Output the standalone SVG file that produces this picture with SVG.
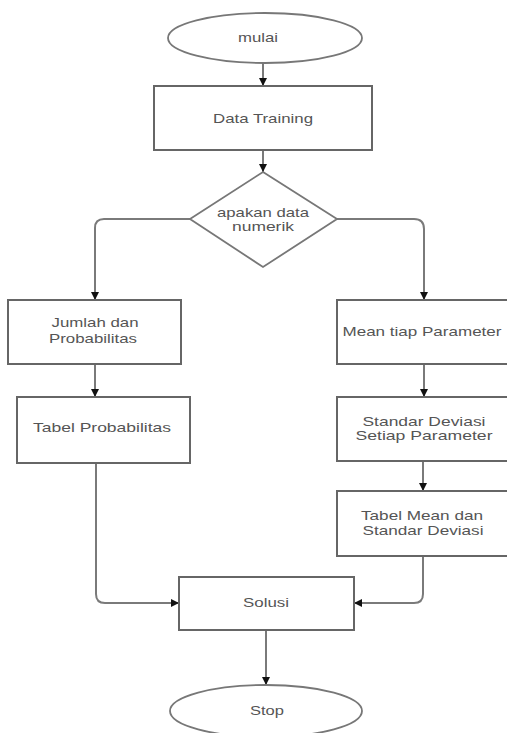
<svg xmlns="http://www.w3.org/2000/svg" width="507" height="733" viewBox="0 0 507 733">
<style>
.box{fill:#fff;stroke:#666;stroke-width:2}
.term{fill:#fff;stroke:#777;stroke-width:1.8}
.t{font-family:"Liberation Sans",Arial,sans-serif;font-size:13px;fill:#555;text-anchor:middle}
.c{fill:none;stroke:#7a7a7a;stroke-width:2;marker-end:url(#ah)}
</style>
<defs>
<marker id="ah" viewBox="0 0 10 10" refX="10" refY="5" markerWidth="4" markerHeight="4" orient="auto" markerUnits="strokeWidth">
<path d="M0,0 L10,5 L0,10 z" fill="#111"/>
</marker>
</defs>
<rect width="507" height="733" fill="#fff"/>
<g id="connectors">
<path class="c" d="M263,63 V86"/>
<path class="c" d="M263,150 V172"/>
<path class="c" d="M190,219 H104 Q95,219 95,228 V300"/>
<path class="c" d="M337,219 H414 Q424,219 424,229 V300"/>
<path class="c" d="M95,364 V397"/>
<path class="c" d="M424,364 V397"/>
<path class="c" d="M423,461 V491"/>
<path class="c" d="M96,463 V594 Q96,603 105,603 H179"/>
<path class="c" d="M423,556 V594 Q423,603 414,603 H354"/>
<path class="c" d="M266,630 V685"/>
</g>
<g id="mulai">
<ellipse class="term" cx="265" cy="38" rx="97" ry="25"/>
<text class="t" x="258" y="42" textLength="40" lengthAdjust="spacingAndGlyphs">mulai</text>
</g>
<g id="data-training">
<rect class="box" x="154" y="86" width="218" height="64"/>
<text class="t" x="263" y="123" textLength="100" lengthAdjust="spacingAndGlyphs">Data Training</text>
</g>
<g id="decision">
<polygon class="term" points="263,172 337,219 263,267 190,219"/>
<text class="t" x="263" y="217" textLength="92" lengthAdjust="spacingAndGlyphs">apakan data</text>
<text class="t" x="263" y="231" textLength="62" lengthAdjust="spacingAndGlyphs">numerik</text>
</g>
<g id="jumlah">
<rect class="box" x="8" y="300" width="173" height="64"/>
<text class="t" x="95" y="327" textLength="87" lengthAdjust="spacingAndGlyphs">Jumlah dan</text>
<text class="t" x="93" y="343" textLength="88" lengthAdjust="spacingAndGlyphs">Probabilitas</text>
</g>
<g id="tabel-prob">
<rect class="box" x="17" y="397" width="173" height="66"/>
<text class="t" x="102" y="432" textLength="138" lengthAdjust="spacingAndGlyphs">Tabel Probabilitas</text>
</g>
<g id="mean">
<rect class="box" x="337" y="300" width="180" height="64"/>
<text class="t" x="422" y="336" textLength="159" lengthAdjust="spacingAndGlyphs">Mean tiap Parameter</text>
</g>
<g id="std">
<rect class="box" x="337" y="397" width="180" height="64"/>
<text class="t" x="424" y="426" textLength="123" lengthAdjust="spacingAndGlyphs">Standar Deviasi</text>
<text class="t" x="424" y="440" textLength="137" lengthAdjust="spacingAndGlyphs">Setiap Parameter</text>
</g>
<g id="tabel-mean">
<rect class="box" x="337" y="491" width="180" height="65"/>
<text class="t" x="422" y="520" textLength="122" lengthAdjust="spacingAndGlyphs">Tabel Mean dan</text>
<text class="t" x="423" y="535" textLength="121" lengthAdjust="spacingAndGlyphs">Standar Deviasi</text>
</g>
<g id="solusi">
<rect class="box" x="179" y="577" width="175" height="53"/>
<text class="t" x="266" y="607" textLength="46" lengthAdjust="spacingAndGlyphs">Solusi</text>
</g>
<g id="stop">
<ellipse class="term" cx="266" cy="711" rx="96" ry="26"/>
<text class="t" x="267" y="715" textLength="34" lengthAdjust="spacingAndGlyphs">Stop</text>
</g>
</svg>
